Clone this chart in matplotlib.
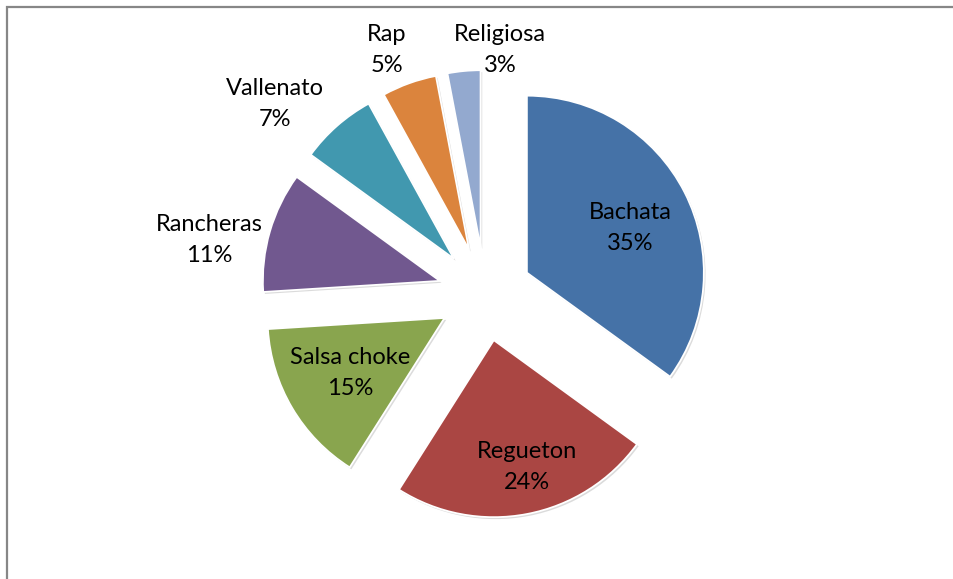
import matplotlib
matplotlib.use("Agg")
import matplotlib.pyplot as plt
from matplotlib.patches import Rectangle

categories = ["Bachata", "Regueton", "Salsa choke", "Rancheras", "Vallenato", "Rap", "Religiosa"]
values = [35, 24, 15, 11, 7, 5, 3]
pct_labels = ["35%", "24%", "15%", "11%", "7%", "5%", "3%"]
colors = ["#4572A7", "#AA4643", "#89A54E", "#71588F", "#4198AF", "#DB843D", "#93A9CF"]

W, H = 954, 579
fig = plt.figure(figsize=(W / 100, H / 100), dpi=100)
ax = fig.add_axes([0, 0, 1, 1])

cx, cy, r = 485, H - 294, 177
explode = [47] * len(values)  # matplotlib explode offsets are in data units here

wedges, _ = ax.pie(values, colors=colors, startangle=90, counterclock=False,
                   center=(cx, cy), radius=r, explode=explode,
                   wedgeprops=dict(edgecolor="white", linewidth=1.3),
                   shadow=dict(ox=1.2, oy=-1.4, facecolor="#9a9a9a", edgecolor="none", alpha=0.35))

ax.set_xlim(0, W)
ax.set_ylim(0, H)
ax.set_aspect("equal")
ax.axis("off")

# label positions (pixel coords from top-left)
label_pos = [(630, 228), (527, 467), (350, 373), (209, 240), (275, 104), (387, 50), (500, 50)]
for name, pct, (x, y) in zip(categories, pct_labels, label_pos):
    ax.text(x, H - y, f"{name}\n{pct}", ha="center", va="center",
            fontsize=17, family=["Lato", "DejaVu Sans"], color="#000000",
            linespacing=1.6)

# outer border
ax.add_patch(Rectangle((7, -5), W + 10, H - 7 + 5, fill=False, edgecolor="#878787",
                       linewidth=1.6, clip_on=False))

fig.savefig("out.png", dpi=100)
